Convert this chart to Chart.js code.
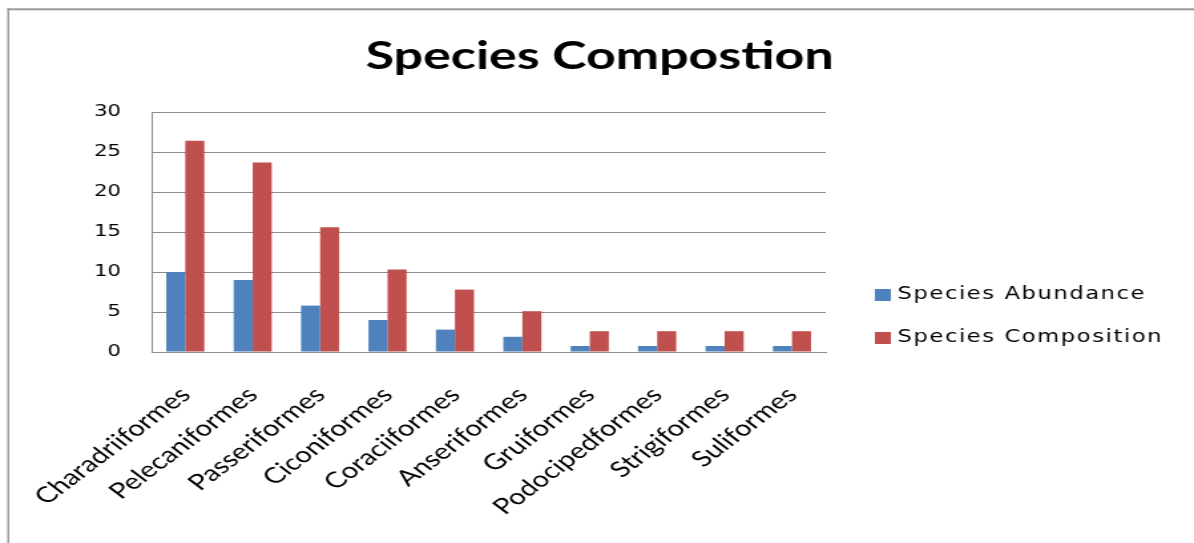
<!DOCTYPE html>
<html>
<head>
<meta charset="utf-8">
<script src="https://cdn.jsdelivr.net/npm/chart.js@4/dist/chart.umd.min.js"></script>
<style>
  html, body { margin: 0; padding: 0; background: #fff; overflow: hidden; }
  #wrap { position: relative; width: 1194px; height: 543px; }
  /* the drawing surface is narrower than its box, so the whole chart is shown widened */
  #c { display: block; width: 1194px; height: 543px; }
</style>
</head>
<body>
<div id="wrap"><canvas id="c" width="898" height="543" style="width:1194px;height:543px"></canvas></div>
<script>
// Bird orders and their counts / percentage share
const orders = ["Charadriiformes", "Pelecaniformes", "Passeriformes", "Ciconiformes", "Coraciiformes",
                "Anseriformes", "Gruiformes", "Podocipedformes", "Strigiformes", "Suliformes"];
const speciesAbundance = [10, 9, 5.8, 4, 2.8, 1.9, 0.75, 0.75, 0.75, 0.75];
const speciesComposition = [26.4, 23.7, 15.6, 10.3, 7.8, 5.1, 2.6, 2.6, 2.6, 2.6];
const yTicks = [0, 5, 10, 15, 20, 25, 30];

const chartTitle = "Species Compostion";
const seriesNames = ["Species Abundance", "Species Composition"];
const seriesColors = ["#4F81BD", "#C0504D"];

// Outer frame, centred title and a legend in the right margin
const decorPlugin = {
  id: 'decor',
  beforeDraw(chart) {
    const ctx = chart.ctx;
    ctx.save();
    ctx.fillStyle = '#fff';
    ctx.fillRect(0, 0, chart.width, chart.height);
    ctx.fillStyle = '#999';
    ctx.fillRect(5.5, 8.3, chart.width, 2);   // top edge of the frame
    ctx.fillRect(5.5, 8.3, 1.5, chart.height); // left edge of the frame
    ctx.restore();
  },
  afterDraw(chart) {
    const ctx = chart.ctx;
    ctx.save();
    // title
    ctx.font = 'bold 39px Lato';
    ctx.fillStyle = '#000';
    ctx.textAlign = 'center';
    ctx.textBaseline = 'middle';
    ctx.fillText(chartTitle, chart.width / 2 + 2, 56);
    // legend
    ctx.textAlign = 'left';
    ctx.font = '17px "DejaVu Sans"';
    ctx.letterSpacing = '1.2px';
    const rows = [295, 338];
    chart.data.datasets.forEach((ds, i) => {
      const y = rows[i];
      ctx.fillStyle = ds.backgroundColor;
      ctx.fillRect(658, y - 6, 12, 12);
      ctx.fillStyle = '#000';
      ctx.fillText(ds.label, 675, y);
    });
    ctx.restore();
  }
};

const chart = new Chart(document.getElementById('c'), {
  type: 'bar',
  data: {
    labels: orders,
    datasets: [
      { label: seriesNames[0], data: speciesAbundance, backgroundColor: seriesColors[0] },
      { label: seriesNames[1], data: speciesComposition, backgroundColor: seriesColors[1] }
    ]
  },
  options: {
    responsive: false,
    animation: false,
    devicePixelRatio: 1,
    layout: { padding: { left: 0, right: 277, top: 112, bottom: 0 } },
    datasets: { bar: { categoryPercentage: 0.565, barPercentage: 1.0 } },
    plugins: {
      legend: { display: false },
      tooltip: { enabled: false },
      title: { display: false }
    },
    scales: {
      x: {
        grid: { display: false, drawTicks: false },
        border: { display: true, color: '#8c8c8c', width: 1 },
        ticks: {
          color: '#000',
          font: { family: 'Lato', size: 22 },
          minRotation: 45, maxRotation: 45,
          padding: 30,
          autoSkip: false
        },
        afterFit(scale) {
          scale.height = 191;
          scale.paddingLeft = 0;
          scale.paddingRight = 0;
        }
      },
      y: {
        min: 0, max: 30,
        afterBuildTicks(scale) { scale.ticks = yTicks.map(v => ({ value: v })); },
        grid: { color: '#8c8c8c', lineWidth: 1, drawTicks: false },
        border: { display: true, color: '#8c8c8c', width: 1 },
        ticks: {
          color: '#000',
          font: { family: '"DejaVu Sans"', size: 16 },
          padding: 23
        },
        afterFit(scale) {
          scale.width = 114;
          scale.paddingTop = 0;
          scale.paddingBottom = 0;
        }
      }
    }
  },
  plugins: [decorPlugin]
});
chart.canvas.style.width = '1194px';
chart.canvas.style.height = '543px';
</script>
</body>
</html>
